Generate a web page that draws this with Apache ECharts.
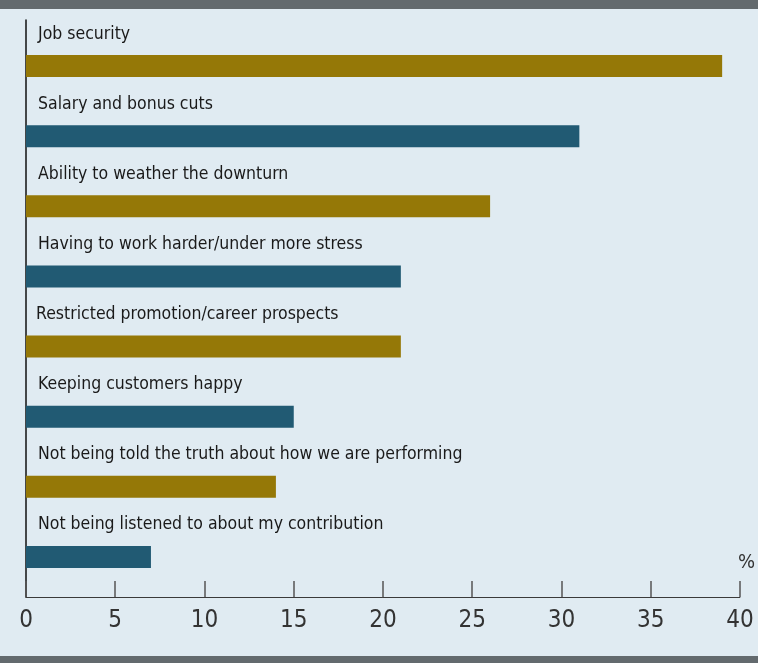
<!DOCTYPE html>
<html>
<head>
<meta charset="utf-8">
<script src="https://cdn.jsdelivr.net/npm/echarts@6/dist/echarts.min.js"></script>
<style>
html,body{margin:0;padding:0;background:#e0ebf2;}
#chart{width:758px;height:663px;}
</style>
</head>
<body>
<div id="chart"></div>
<script>
const categories = [
  "Job security",
  "Salary and bonus cuts",
  "Ability to weather the downturn",
  "Having to work harder/under more stress",
  "Restricted promotion/career prospects",
  "Keeping customers happy",
  "Not being told the truth about how we are performing",
  "Not being listened to about my contribution"
];
const values = [39, 31, 26, 21, 21, 15, 14, 7];
const xTicks = { min: 0, max: 40, interval: 5 };
const colors = ["#957807", "#215a73"];

const FONT = "'Liberation Sans Narrow', 'DejaVu Sans Condensed', sans-serif";

const chart = echarts.init(document.getElementById('chart'), null, {renderer: 'canvas'});
chart.setOption({
  backgroundColor: '#e0ebf2',
  animation: false,
  graphic: [
    {type: 'rect', left: 0, top: 0, shape: {width: 758, height: 9}, style: {fill: '#636a6e'}},
    {type: 'rect', left: 0, top: 656, shape: {width: 758, height: 7}, style: {fill: '#636a6e'}}
  ],
  grid: [
    {left: 26, right: 18, top: 31, bottom: 71},
    {left: 26, right: 18, top: 20, bottom: 66}
  ],
  xAxis: [
    {gridIndex: 0, type: 'value', min: xTicks.min, max: xTicks.max, interval: xTicks.interval, show: false},
    {gridIndex: 1, type: 'value', min: xTicks.min, max: xTicks.max, interval: xTicks.interval,
     splitLine: {show: false},
     axisLine: {show: true, lineStyle: {color: '#3a3a3a', width: 1}},
     axisTick: {show: true, inside: true, length: 16, lineStyle: {color: '#555', width: 1.5}},
     axisLabel: {color: '#333', fontSize: 24, fontFamily: FONT, margin: 12},
     name: '%', nameLocation: 'end', nameGap: -2,
     nameTextStyle: {color: '#333', fontSize: 20, fontFamily: FONT, verticalAlign: 'bottom', padding: [0, 0, 24, 0]}
    }
  ],
  yAxis: [
    {gridIndex: 0, type: 'category', data: categories, inverse: true, show: false},
    {gridIndex: 1, type: 'category', data: [''], inverse: true,
     axisLine: {show: true, lineStyle: {color: '#111', width: 1.5}},
     axisTick: {show: false}, axisLabel: {show: false}, splitLine: {show: false}}
  ],
  series: [{
    type: 'bar',
    xAxisIndex: 0, yAxisIndex: 0,
    barWidth: 22,
    data: values.map((v, i) => {
      const item = {value: v, itemStyle: {color: colors[i % 2]}};
      if (i === 4) item.label = {position: [10, -21]};
      return item;
    }),
    label: {
      show: true, position: [12, -21], verticalAlign: 'middle', align: 'left',
      formatter: '{b}', color: '#1a1a1a', fontSize: 17.5, fontFamily: FONT
    }
  }]
});
</script>
</body>
</html>
